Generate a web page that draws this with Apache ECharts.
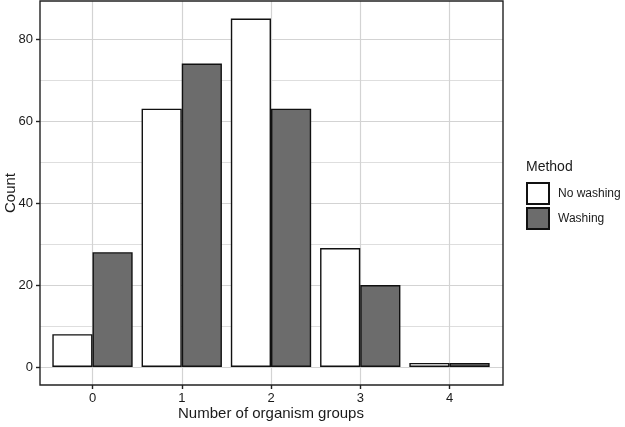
<!DOCTYPE html>
<html>
<head>
<meta charset="utf-8">
<script src="https://cdn.jsdelivr.net/npm/echarts@6/dist/echarts.min.js"></script>
<style>
html,body{margin:0;padding:0;background:#fff;}
#c{width:625px;height:427px;}
</style>
</head>
<body>
<div id="c"></div>
<script>
const categories = ['0', '1', '2', '3', '4'];
const noWashing = [8, 63, 85, 29, 1];
const washing = [28, 74, 63, 20, 1];
const seriesNames = ['No washing', 'Washing'];
const legendTitle = 'Method';
const xTitle = 'Number of organism groups';
const yTitle = 'Count';

const FONT = 'Liberation Sans, Arial, sans-serif';
const TXT = '#1a1a1a';
const GRID_MAJOR = '#d3d3d3';
const GRID_MINOR = '#dedede';

const chart = echarts.init(document.getElementById('c'), null, {renderer: 'canvas'});

const hiddenAxis = (extra) => Object.assign({
  show: true,
  axisLine: {show: false}, axisTick: {show: false}, axisLabel: {show: false},
  splitLine: {show: false}
}, extra);

chart.setOption({
  animation: false,
  backgroundColor: '#ffffff',
  textStyle: {fontFamily: FONT},
  title: {
    text: legendTitle, left: 526, top: 160,
    padding: 0,
    textStyle: {fontSize: 14, fontWeight: 'normal', color: TXT, fontFamily: FONT}
  },
  legend: {
    orient: 'vertical', left: 526, top: 182, padding: 0,
    itemWidth: 22, itemHeight: 21, itemGap: 2,
    icon: 'rect',
    data: seriesNames,
    textStyle: {fontSize: 12, color: TXT, fontFamily: FONT, padding: [0, 0, 0, 4]}
  },
  grid: [
    {left: 40, top: 39, width: 463, height: 328},
    {left: 92.5, top: 1, width: 357, height: 384},
    {left: 47.875, top: 39, width: 446.25, height: 328},
    {left: 40, top: 1, width: 463, height: 384, show: true, z: 10,
     outerBoundsMode: 'none',
     borderColor: '#222', borderWidth: 1.4, backgroundColor: 'transparent'}
  ],
  xAxis: [
    hiddenAxis({type: 'value', gridIndex: 0, min: 0, max: 1}),
    {
      type: 'value', gridIndex: 1, min: 0, max: 4, interval: 1,
      axisLine: {show: false},
      axisTick: {show: true, inside: false, length: 4, lineStyle: {color: '#222', width: 1.4}},
      axisLabel: {show: true, margin: 7, fontSize: 13, color: TXT, fontFamily: FONT,
                  formatter: (v) => categories[v]},
      splitLine: {show: true, lineStyle: {color: GRID_MAJOR, width: 1.2}},
      name: xTitle, nameLocation: 'middle', nameGap: 21, nameMoveOverlap: false,
      nameTextStyle: {fontSize: 15, color: TXT, fontFamily: FONT}
    },
    hiddenAxis({type: 'category', gridIndex: 2, data: categories, boundaryGap: true}),
    hiddenAxis({type: 'value', gridIndex: 3, min: 0, max: 1})
  ],
  yAxis: [
    {
      type: 'value', gridIndex: 0, min: 0, max: 80, interval: 20,
      axisLine: {show: false},
      axisTick: {show: true, inside: false, length: 4, lineStyle: {color: '#222', width: 1.4}},
      axisLabel: {show: true, margin: 7, fontSize: 13, color: TXT, fontFamily: FONT},
      splitLine: {show: true, lineStyle: {color: GRID_MAJOR, width: 1.2}},
      minorTick: {show: false, splitNumber: 2},
      minorSplitLine: {show: true, lineStyle: {color: GRID_MINOR, width: 1}}
    },
    hiddenAxis({type: 'value', gridIndex: 1, min: 0, max: 1}),
    hiddenAxis({type: 'value', gridIndex: 2, min: 0, max: 80}),
    hiddenAxis({
      type: 'value', gridIndex: 3, min: 0, max: 1,
      name: yTitle, nameLocation: 'middle', nameGap: 22, nameRotate: 90, nameMoveOverlap: false,
      nameTextStyle: {fontSize: 15, color: TXT, fontFamily: FONT}
    })
  ],
  series: [
    {
      name: seriesNames[0], type: 'bar', xAxisIndex: 2, yAxisIndex: 2,
      data: noWashing, barGap: '0%', barCategoryGap: '10%', clip: false,
      itemStyle: {color: '#ffffff', borderColor: '#111', borderWidth: 1.4},
      z: 3
    },
    {
      name: seriesNames[1], type: 'bar', xAxisIndex: 2, yAxisIndex: 2,
      data: washing, barGap: '0%', barCategoryGap: '10%', clip: false,
      itemStyle: {color: '#6c6c6c', borderColor: '#111', borderWidth: 1.4},
      z: 3
    }
  ]
});
</script>
</body>
</html>
